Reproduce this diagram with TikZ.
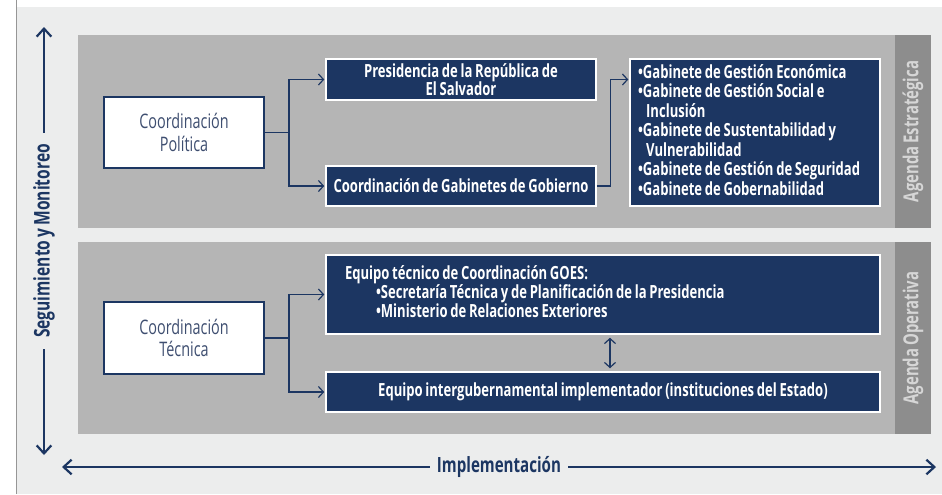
\documentclass[tikz,border=0pt]{standalone}
\usepackage{fontspec}
\setmainfont{Open Sans}[FakeStretch=0.72, WordSpace=0.8]
\usepackage{tikz}
\usetikzlibrary{arrows.meta, positioning, calc}
\definecolor{navycolor}{RGB}{28,54,98}
\definecolor{panelgray}{RGB}{181,181,181}
\definecolor{stripgray}{RGB}{141,141,141}
\definecolor{bggray}{RGB}{236,237,237}
\definecolor{striptext}{RGB}{214,214,214}
\definecolor{coordtext}{RGB}{62,78,112}
\definecolor{edgegray}{RGB}{150,150,150}
\newdimen\pxu \pxu=0.75pt

\begin{document}
\begin{tikzpicture}[
    x=\pxu, y=-\pxu,
    coordbox/.style={draw=navycolor, line width=2\pxu, fill=white, text=coordtext, minimum width=160\pxu, minimum height=71\pxu, align=center, inner sep=0pt, font=\fontsize{15}{17}\selectfont},
    navybox/.style={draw=white, line width=1.5\pxu, fill=navycolor, text=white, inner sep=0pt, font=\bfseries\fontsize{13.6}{13.8}\selectfont},
    striplabel/.style={rotate=90, text=striptext, font=\bfseries\fontsize{15.5}{16}\selectfont},
    arrow/.style={-{Straight Barb[length=3.75pt, width=8.25pt]}, draw=navycolor, line width=0.9pt, shorten >=0.75pt},
    bigarrow/.style={{Straight Barb[length=6pt, width=11pt]}-{Straight Barb[length=6pt, width=11pt]}, draw=navycolor, line width=1.65pt}
]
    \useasboundingbox (0,0) rectangle (942,494);

    % Background and panels
    \fill[bggray] (17,7) rectangle (942,494);
    \draw[edgegray, line width=1.1pt] (16.5,0) -- (16.5,494);
    \fill[panelgray] (78,35) rectangle (895,228);
    \fill[stripgray] (895,35) rectangle (931,228);
    \fill[panelgray] (78,242) rectangle (895,434);
    \fill[stripgray] (895,242) rectangle (931,434);
    \node[striplabel] (estrat) at (913,131.5) {Agenda Estratégica};
    \node[striplabel] (operat) at (913,338) {Agenda Operativa};

    % Strategic agenda
    \node[coordbox] (polit) at (184,132.5) {Coordinación\\Política};
    \node[navybox, minimum width=270\pxu, minimum height=41\pxu, align=center] (pres) at (461,79.5) {Presidencia de la República de\\El Salvador};
    \node[navybox, minimum width=270\pxu, minimum height=40\pxu] (cgab) at (461,186) {Coordinación de Gabinetes de Gobierno};
    \node[navybox, minimum height=147\pxu, text width=234\pxu, inner xsep=8\pxu, align=left] (gablist) at (755,132.5) {%
        \spaceskip=0pt\xspaceskip=0pt\renewcommand{\arraystretch}{1.03}%
        \begin{tabular}{@{}l@{}}
        •Gabinete de Gestión Económica\\
        •Gabinete de Gestión Social e\\
        \hspace*{0.45em}Inclusión\\
        •Gabinete de Sustentabilidad y\\
        \hspace*{0.45em}Vulnerabilidad\\
        •Gabinete de Gestión de Seguridad\\
        •Gabinete de Gobernabilidad
        \end{tabular}};

    \coordinate (pj) at (289,132.5);
    \draw[navycolor, line width=0.9pt] (polit.east) -- (pj);
    \draw[arrow] (pj) |- (pres.west);
    \draw[arrow] (pj) |- (cgab.west);
    \draw[arrow] (cgab.east) -- ++(14,0) |- (gablist.west |- pres.west);

    % Operative agenda
    \node[coordbox, minimum height=72\pxu] (tecn) at (184,338) {Coordinación\\Técnica};
    \node[navybox, minimum height=79\pxu, text width=516\pxu, inner xsep=19\pxu, align=left] (eqtec) at (603,294.5) {%
        \spaceskip=0pt\xspaceskip=0pt\renewcommand{\arraystretch}{0.98}%
        \begin{tabular}{@{}l@{}}
        Equipo técnico de Coordinación GOES:\\
        \hspace*{31\pxu}•Secretaría Técnica y de Planificación de la Presidencia\\
        \hspace*{31\pxu}•Ministerio de Relaciones Exteriores
        \end{tabular}};
    \node[navybox, minimum width=554\pxu, minimum height=40\pxu] (eqint) at (603,392) {Equipo intergubernamental implementador (instituciones del Estado)};

    \coordinate (tj) at (289,338);
    \draw[navycolor, line width=0.9pt] (tecn.east) -- (tj);
    \draw[arrow] (tj) |- (eqtec.west);
    \draw[arrow] (tj) |- (eqint.west);
    \draw[arrow, {Straight Barb[length=3.75pt, width=8.25pt]}-{Straight Barb[length=3.75pt, width=8.25pt]}, shorten >=2.25pt, shorten <=2.25pt] ([xshift=5.25pt]eqtec.south) -- ([xshift=5.25pt]eqint.north);

    % Axes
    \coordinate (segtop) at (44,27);
    \coordinate (segbot) at (44,455);
    \draw[bigarrow] (segtop) -- (segbot) node[midway, rotate=90, fill=bggray, inner xsep=8pt, text=navycolor, font=\bfseries\fontsize{16.2}{17}\selectfont] (segui) {Seguimiento y Monitoreo};
    \coordinate (impleft) at (62,467);
    \coordinate (impright) at (936,467);
    \draw[bigarrow] (impleft) -- (impright) node[midway, fill=bggray, inner xsep=5pt, text=navycolor, font=\bfseries\fontsize{15.75}{16}\selectfont] (imple) {Implementación};
\end{tikzpicture}
\end{document}
